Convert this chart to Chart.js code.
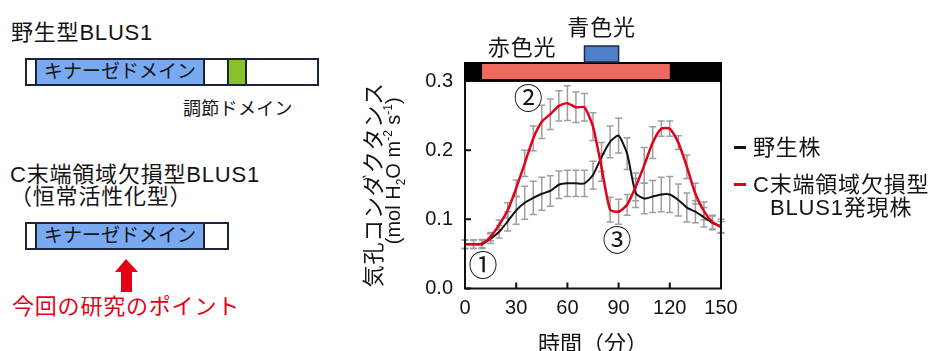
<!DOCTYPE html>
<html>
<head>
<meta charset="utf-8">
<script src="https://cdn.jsdelivr.net/npm/chart.js@4.4.0/dist/chart.umd.min.js"></script>
<style>
html, body { margin: 0; padding: 0; background: #fff; width: 936px; height: 351px; overflow: hidden; }
body { font-family: "Liberation Sans", "Noto Sans CJK JP", sans-serif; color: #141414; }
#wrap { position: relative; width: 936px; height: 351px; }
#chart { position: absolute; left: 0; top: 0; }
.t { position: absolute; white-space: nowrap; font-size: 22px; line-height: 24px; letter-spacing: 0.8px; }
.box { position: absolute; height: 28px; border: 2px solid #1b2438; background: #fff; box-sizing: border-box; }
.kin { position: absolute; top: -2px; height: 28px; box-sizing: border-box; background: #79a9f1;
  border: 2px solid #1b2438; font-size: 19px; line-height: 24px; text-align: center; }
.reg { position: absolute; top: -2px; height: 28px; box-sizing: border-box; background: #8cc02a;
  border: 2px solid #1b2438; }
#legend { position: absolute; left: 734px; top: 136px; font-size: 22px; line-height: 23px; letter-spacing: 0.8px; }
#legend .item { display: flex; align-items: flex-start; margin-bottom: 14px; }
#legend .dash { display: inline-block; width: 12px; height: 3px; margin-top: 10px; margin-right: 7px; }
#legend .lab { text-align: center; white-space: pre; }
</style>
</head>
<body>
<div id="wrap">
  <!-- left: domain diagrams -->
  <div class="t" style="left:11px;top:21px;">野生型BLUS1</div>
  <div class="box" style="left:25px;top:58px;width:294px;">
    <div class="kin" style="left:8px;width:170px;">キナーゼドメイン</div>
    <div class="reg" style="left:200px;width:20px;"></div>
  </div>
  <div class="t" style="left:183px;top:97px;font-size:18px;letter-spacing:0.3px;">調節ドメイン</div>

  <div class="t" style="left:10px;top:163px;">C末端領域欠損型BLUS1</div>
  <div class="t" style="left:10px;top:185px;">（恒常活性化型）</div>
  <div class="box" style="left:25px;top:222px;width:204px;">
    <div class="kin" style="left:8px;width:170px;">キナーゼドメイン</div>
  </div>
  <svg style="position:absolute;left:112px;top:258px;" width="30" height="36">
    <polygon points="14,1 26,14 20,14 20,34 9,34 9,14 3,14" fill="#e30016"/>
  </svg>
  <div class="t" style="left:12px;top:295px;color:#e5001a;">今回の研究のポイント</div>

  <canvas id="chart" width="936" height="360"></canvas>
  <div id="legend"></div>
</div>

<script>
// time axis (min) and measured stomatal conductance
const times = [0, 5, 10, 15, 20, 25, 30, 35, 40, 45, 50, 55, 60, 65, 70, 75,
  80, 85, 90, 95, 100, 105, 110, 115, 120, 125, 130, 135, 140, 145, 150];

const wildType = [0.064, 0.064, 0.064, 0.072, 0.082, 0.097, 0.113, 0.124, 0.131, 0.137, 0.141, 0.150,
  0.152, 0.152, 0.152, 0.164, 0.190, 0.212, 0.221, 0.195, 0.138, 0.130, 0.133, 0.136, 0.136, 0.128,
  0.117, 0.111, 0.103, 0.095, 0.090];
const wildErr = [0.006, 0.006, 0.006, 0.007, 0.009, 0.014, 0.020, 0.024, 0.024, 0.024, 0.022, 0.020,
  0.019, 0.019, 0.019, 0.020, 0.021, 0.023, 0.025, 0.023, 0.021, 0.022, 0.023, 0.025, 0.026, 0.023,
  0.021, 0.016, 0.014, 0.010, 0.010];

const truncated = [0.064, 0.064, 0.065, 0.075, 0.092, 0.113, 0.145, 0.181, 0.217, 0.241, 0.252, 0.264,
  0.268, 0.262, 0.262, 0.234, 0.175, 0.114, 0.111, 0.121, 0.147, 0.178, 0.211, 0.231, 0.231, 0.211,
  0.176, 0.137, 0.112, 0.096, 0.089];
const truncErr = [0.006, 0.006, 0.006, 0.006, 0.007, 0.011, 0.012, 0.019, 0.018, 0.024, 0.022, 0.022,
  0.025, 0.022, 0.020, 0.020, 0.020, 0.018, 0.018, 0.015, 0.020, 0.026, 0.023, 0.011, 0.011, 0.010,
  0.017, 0.015, 0.013, 0.010, 0.008];

const xTicks = [0, 30, 60, 90, 120, 150];
const yTicks = [0, 0.1, 0.2, 0.3];

// light treatment (min)
const redLight = [10, 120];
const blueLight = [70, 90];

const seriesLabels = ['野生株', 'C末端領域欠損型\nBLUS1発現株'];
const seriesColors = ['#111111', '#e2001c'];
const notes = [
  { text: '①', t: 10.5, v: 0.034 },
  { text: '②', t: 37, v: 0.276 },
  { text: '③', t: 89, v: 0.070 }
];

const jp = '"Noto Sans CJK JP", sans-serif';
const latin = '"Liberation Sans", "Noto Sans CJK JP", sans-serif';
Chart.defaults.font.family = latin;
Chart.defaults.color = '#141414';

function toPoints(ys) {
  return times.map((t, i) => ({ x: t, y: ys[i] }));
}

const errorBars = {
  id: 'errorBars',
  beforeDatasetsDraw(chart) {
    const { ctx, scales: { x, y } } = chart;
    const errs = [wildErr, truncErr];
    ctx.save();
    ctx.strokeStyle = '#9e9e9e';
    ctx.lineWidth = 1.5;
    chart.data.datasets.forEach((ds, di) => {
      ds.data.forEach((p, i) => {
        const px = x.getPixelForValue(p.x);
        const top = y.getPixelForValue(p.y + errs[di][i]);
        const bot = y.getPixelForValue(p.y - errs[di][i]);
        ctx.beginPath();
        ctx.moveTo(px, top); ctx.lineTo(px, bot);
        ctx.moveTo(px - 3.5, top); ctx.lineTo(px + 3.5, top);
        ctx.moveTo(px - 3.5, bot); ctx.lineTo(px + 3.5, bot);
        ctx.stroke();
      });
    });
    ctx.restore();
  }
};

const frame = {
  id: 'frame',
  afterDraw(chart) {
    const { ctx, chartArea: a, scales: { x, y } } = chart;
    ctx.save();
    ctx.strokeStyle = '#111';
    ctx.lineWidth = 2;
    ctx.strokeRect(a.left, a.top, a.right - a.left, a.bottom - a.top);
    // inward tick marks
    ctx.beginPath();
    yTicks.forEach(v => {
      const py = y.getPixelForValue(v);
      ctx.moveTo(a.left, py); ctx.lineTo(a.left + 6, py);
    });
    xTicks.forEach(v => {
      const px = x.getPixelForValue(v);
      ctx.moveTo(px, a.bottom); ctx.lineTo(px, a.bottom - 6);
    });
    ctx.stroke();

    // light condition bar
    const x0 = x.getPixelForValue(times[0]);
    const x1 = x.getPixelForValue(times[times.length - 1]);
    ctx.fillStyle = '#000';
    ctx.fillRect(x0 - 1, a.top - 19, x1 - x0 + 2, 19);
    ctx.fillStyle = '#ec6a5e';
    const r0 = x.getPixelForValue(redLight[0]);
    const r1 = x.getPixelForValue(redLight[1]);
    ctx.fillRect(r0, a.top - 17, r1 - r0, 15);
    const b0 = x.getPixelForValue(blueLight[0]);
    const b1 = x.getPixelForValue(blueLight[1]);
    ctx.fillStyle = '#4f7fc6';
    ctx.fillRect(b0, a.top - 35, b1 - b0, 16);
    ctx.strokeStyle = '#1c2a48';
    ctx.lineWidth = 1.5;
    ctx.strokeRect(b0, a.top - 35, b1 - b0, 16);

    ctx.fillStyle = '#141414';
    ctx.font = '22px ' + jp;
    ctx.textAlign = 'center';
    ctx.textBaseline = 'middle';
    ctx.letterSpacing = '0.8px';
    ctx.fillText('青色光', (b0 + b1) / 2, a.top - 54);
    ctx.fillText('赤色光', r0 + 40, a.top - 34);

    // y axis title
    const cy = (a.top + a.bottom) / 2;
    ctx.save();
    ctx.translate(a.left - 92, cy);
    ctx.rotate(-Math.PI / 2);
    ctx.fillText('気孔コンダクタンス', 0, 0);
    ctx.restore();

    // circled markers
    ctx.font = '29px ' + jp;
    ctx.letterSpacing = '0px';
    notes.forEach(n => {
      ctx.fillText(n.text, x.getPixelForValue(n.t), y.getPixelForValue(n.v));
    });

    const parts = [
      { s: '(mol H', f: 20, dy: 0 },
      { s: '2', f: 12, dy: 5 },
      { s: 'O m', f: 20, dy: 0 },
      { s: '-2', f: 12, dy: -8 },
      { s: ' s', f: 20, dy: 0 },
      { s: '-1', f: 12, dy: -8 },
      { s: ')', f: 20, dy: 0 }
    ];
    ctx.save();
    ctx.translate(a.left - 72, cy - 14);
    ctx.rotate(-Math.PI / 2);
    ctx.textAlign = 'left';
    ctx.textBaseline = 'alphabetic';
    let w = 0;
    parts.forEach(p => { ctx.font = p.f + 'px ' + latin; w += ctx.measureText(p.s).width; });
    let cx = -w / 2;
    parts.forEach(p => {
      ctx.font = p.f + 'px ' + latin;
      ctx.fillText(p.s, cx, 7 + p.dy);
      cx += ctx.measureText(p.s).width;
    });
    ctx.restore();
    ctx.restore();
  }
};

const chart = new Chart(document.getElementById('chart').getContext('2d'), {
  type: 'line',
  data: {
    datasets: [
      {
        label: seriesLabels[0],
        data: toPoints(wildType),
        borderColor: seriesColors[0],
        borderWidth: 2,
        pointRadius: 0,
        tension: 0.2,
        order: 1
      },
      {
        label: seriesLabels[1],
        data: toPoints(truncated),
        borderColor: seriesColors[1],
        borderWidth: 2.5,
        pointRadius: 0,
        tension: 0.2,
        order: 0
      }
    ]
  },
  options: {
    responsive: false,
    animation: false,
    devicePixelRatio: 1,
    layout: { padding: { left: 0, right: 215, top: 81, bottom: 0 } },
    plugins: { legend: { display: false }, tooltip: { enabled: false } },
    scales: {
      x: {
        type: 'linear',
        min: 0,
        max: 150,
        afterBuildTicks: s => { s.ticks = xTicks.map(v => ({ value: v })); },
        afterFit: s => { s.height = 71.5; },
        grid: { display: false, drawTicks: false },
        border: { display: false },
        ticks: { font: { size: 20 }, padding: 8, maxRotation: 0, color: '#141414' },
        title: { display: true, text: '時間（分）', font: { size: 22, family: jp }, padding: { top: 0, bottom: 4 }, color: '#141414' }
      },
      y: {
        min: 0,
        max: 0.3,
        afterBuildTicks: s => { s.ticks = yTicks.map(v => ({ value: v })); },
        afterFit: s => { s.width = 465; },
        grid: { display: false, drawTicks: false },
        border: { display: false },
        ticks: { font: { size: 20 }, padding: 12, color: '#141414', callback: v => v.toFixed(1) }
      }
    }
  },
  plugins: [errorBars, frame]
});

// html legend from the datasets
const legend = document.getElementById('legend');
chart.data.datasets.forEach(ds => {
  const item = document.createElement('div');
  item.className = 'item';
  const dash = document.createElement('span');
  dash.className = 'dash';
  dash.style.background = ds.borderColor;
  const lab = document.createElement('span');
  lab.className = 'lab';
  lab.textContent = ds.label;
  item.appendChild(dash);
  item.appendChild(lab);
  legend.appendChild(item);
});
</script>
</body>
</html>
